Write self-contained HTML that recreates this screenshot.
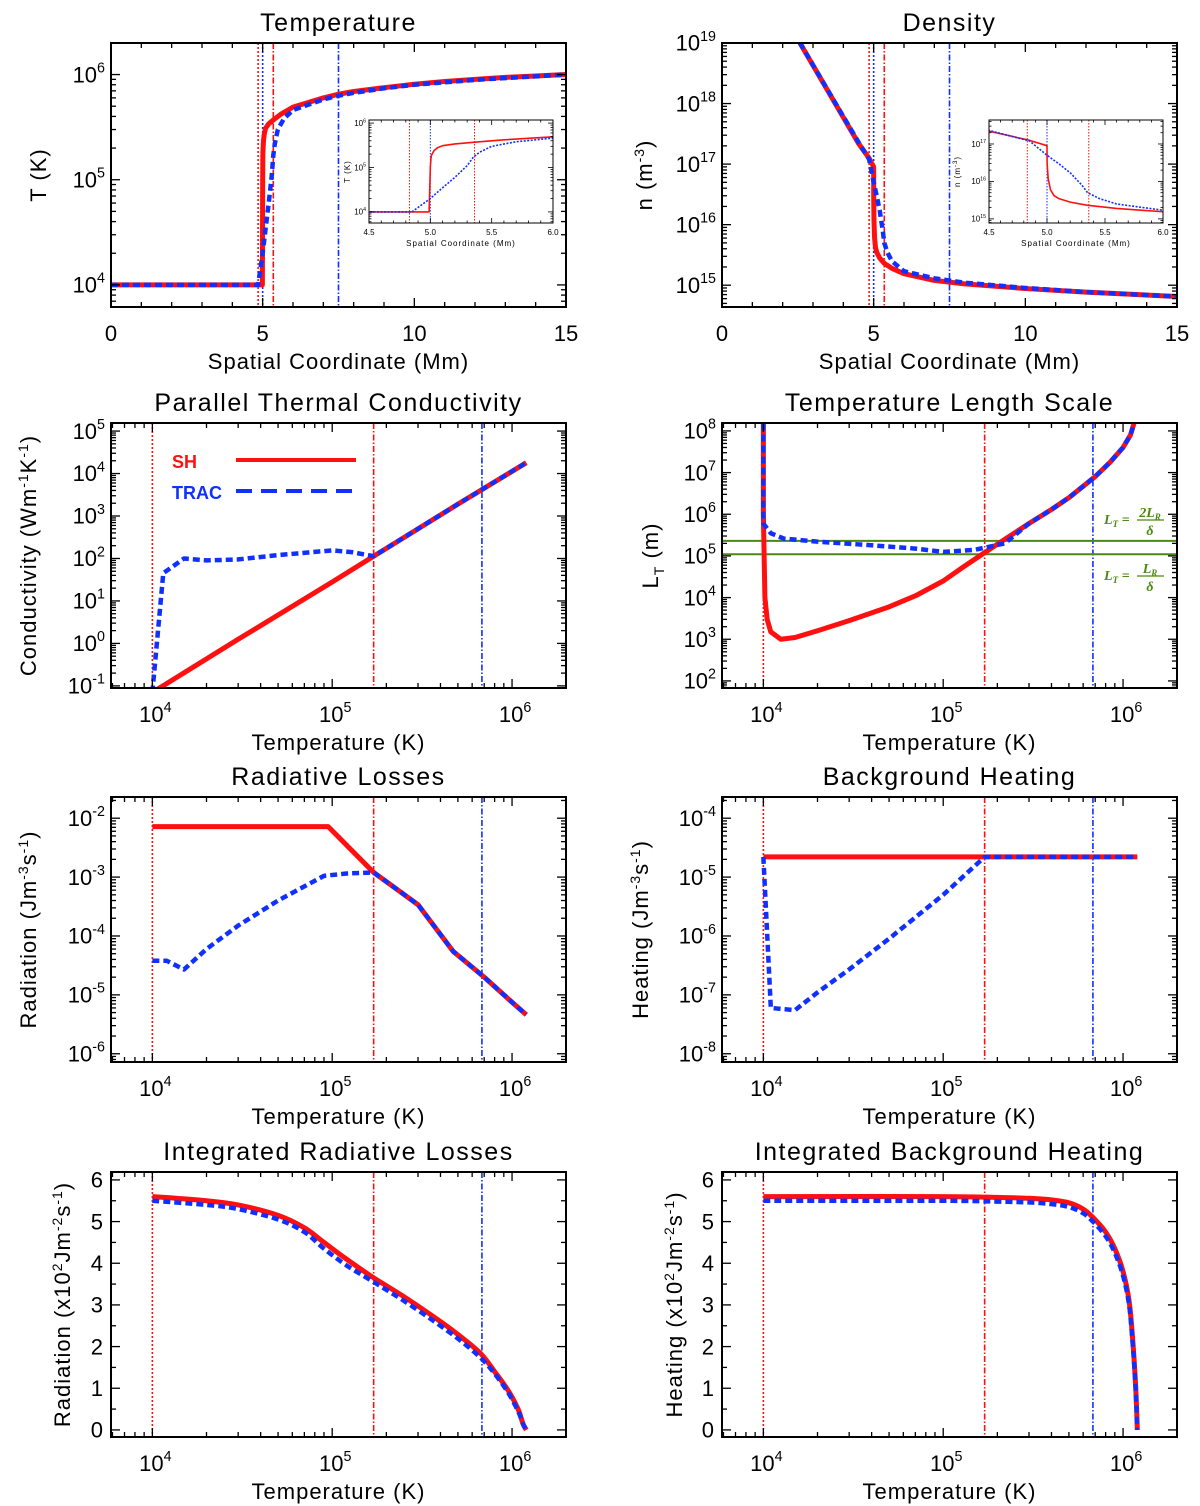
<!DOCTYPE html>
<html><head><meta charset="utf-8"><style>
html,body{margin:0;padding:0;background:#fff}
svg{display:block;font-family:"Liberation Sans",sans-serif}
</style></head><body>
<svg id="fig" width="1200" height="1506" viewBox="0 0 1200 1506" xmlns="http://www.w3.org/2000/svg"></svg>
<script>
// ---------- data ----------
const tempS_SH=[0,4.99,5.0,5.005,5.01,5.03,5.06,5.1,5.2,5.35,5.6,6,7,7.5,8,9,10,11,12,13,14,15];
const tempT_SH=[1e4,1e4,1e5,1.6e5,1.9e5,2.4e5,2.8e5,3.1e5,3.4e5,3.7e5,4.2e5,4.9e5,6e5,6.5e5,6.9e5,7.5e5,8.1e5,8.6e5,9e5,9.4e5,9.7e5,1e6];
const tempS_TRAC=[0,4.85,5.0,5.1,5.2,5.3,5.35,5.4,5.5,5.7,6,7,7.5,8,9,10,12,15];
const tempT_TRAC=[1e4,1e4,2e4,3.5e4,6e4,1.1e5,1.7e5,2.2e5,3e5,3.8e5,4.6e5,5.8e5,6.3e5,6.7e5,7.4e5,8e5,8.9e5,1e6];
const densS_SH=[2.57,4.5,4.85,5.0,5.001,5.01,5.03,5.06,5.1,5.2,5.35,5.6,6,7,8,10,12,15];
const densN_SH=[1e19,2.2e17,1.25e17,9e16,3e16,1.2e16,6e15,4.2e15,3.5e15,2.8e15,2.3e15,1.9e15,1.55e15,1.2e15,1.05e15,8.8e14,7.7e14,6.5e14];
const densS_TRAC=[2.57,4.5,4.85,5.0,5.1,5.2,5.3,5.35,5.45,5.6,6,7,8,10,12,15];
const densN_TRAC=[1e19,2.3e17,1.2e17,5e16,3e16,1.7e16,8e15,5e15,3.5e15,2.5e15,1.7e15,1.3e15,1.1e15,9e14,7.7e14,6.5e14];
const condT_SH=[1e4,3e4,1e5,1.7e5,5e5,1.2e6];
const condK_SH=[0.07,1.25,28,113,1900,1.8e4];
const condT_TRAC=[1e4,1.15e4,1.5e4,2e4,3e4,5e4,1e5,1.3e5,1.7e5,5e5,1.2e6];
const condK_TRAC=[0.07,45,100,90,95,120,155,140,113,1900,1.8e4];
const ltT_SH=[1e4,1e4,1.02e4,1.05e4,1.1e4,1.25e4,1.5e4,2e4,3e4,5e4,7e4,1e5,1.3e5,1.7e5,2.2e5,3e5,4e5,5e5,7e5,8.5e5,1e6,1.1e6,1.15e6];
const ltL_SH=[1.5e8,1e6,1e4,3e3,1.5e3,1e3,1.1e3,1.6e3,2.8e3,6e3,1.1e4,2.5e4,5.5e4,1.2e5,2.5e5,6e5,1.3e6,2.5e6,8e6,1.8e7,4e7,8e7,1.5e8];
const ltT_TRAC=[1e4,1e4,1.1e4,1.3e4,2e4,4e4,7e4,1e5,1.5e5,2.2e5,3e5,4e5,5e5,7e5,8.5e5,1e6,1.1e6,1.15e6];
const ltL_TRAC=[1.5e8,6e5,3.5e5,2.6e5,2.2e5,1.8e5,1.5e5,1.25e5,1.4e5,2.0e5,6e5,1.3e6,2.5e6,8e6,1.8e7,4e7,8e7,1.5e8];
const ltRefLines=[2.3e5,1.1e5];
const radT_SH=[1e4,9.5e4,1.7e5,3e5,4.7e5,7e5,1e6,1.2e6];
const radR_SH=[7.2e-3,7.2e-3,1.2e-3,3.4e-4,5.5e-5,2.0e-5,7.5e-6,4.6e-6];
const radT_TRAC=[1e4,1.2e4,1.5e4,2e4,3e4,5e4,9e4,1.2e5,1.7e5,3e5,4.7e5,7e5,1e6,1.2e6];
const radR_TRAC=[3.8e-5,3.8e-5,2.7e-5,6e-5,1.5e-4,4e-4,1.05e-3,1.15e-3,1.2e-3,3.4e-4,5.5e-5,2.0e-5,7.5e-6,4.6e-6];
const heatT_SH=[1e4,1.2e6];
const heatH_SH=[2.2e-5,2.2e-5];
const heatT_TRAC=[1e4,1.1e4,1.5e4,2e4,3e4,5e4,1e5,1.7e5,1.2e6];
const heatH_TRAC=[2.2e-5,6e-8,5.5e-8,1.1e-7,2.7e-7,9e-7,5e-6,2.2e-5,2.2e-5];
const irT=[1e4,2e4,3e4,5e4,7e4,9e4,1.2e5,1.7e5,2.5e5,4e5,5.5e5,6.8e5,8e5,9.5e5,1.08e6,1.15e6,1.2e6];
const ir_SH=[5.6,5.5,5.4,5.15,4.85,4.5,4.1,3.65,3.2,2.6,2.15,1.8,1.4,0.95,0.5,0.15,0];
const ir_TRAC=[5.5,5.4,5.3,5.05,4.75,4.35,3.95,3.55,3.1,2.5,2.05,1.7,1.35,0.9,0.45,0.15,0];
const ihT=[1e4,1e5,2e5,3e5,4e5,5e5,6e5,6.8e5,8e5,9e5,1e6,1.08e6,1.13e6,1.17e6,1.19e6,1.2e6];
const ih_SH=[5.6,5.6,5.58,5.56,5.52,5.45,5.3,5.1,4.75,4.35,3.8,3.1,2.2,1.2,0.5,0];
const ih_TRAC=[5.5,5.5,5.48,5.46,5.42,5.35,5.2,5.0,4.65,4.25,3.7,3.0,2.1,1.15,0.45,0];
const vlinesS=[4.85,5.0,5.35,7.5];
const vlinesInset=[4.83,5.0,5.36];
const vlinesT=[1e4,1.7e5,6.8e5];

// ---------- helpers ----------
const NS='http://www.w3.org/2000/svg';
const svg=document.getElementById('fig');
function mk(tag,attrs,parent){const e=document.createElementNS(NS,tag);for(const k in attrs)e.setAttribute(k,attrs[k]);parent.appendChild(e);return e;}
let clipId=0;
function expText(parent,x,y,exp,anchor,fs,name){
  const t=mk('text',{x:x,y:y,'text-anchor':anchor,'font-size':fs},parent);
  
  
  const a=mk('tspan',{},t);a.textContent='10';
  const b=mk('tspan',{dy:-fs*0.45,'font-size':fs*0.65},t);b.textContent=String(exp);
  return t;
}
function panel(c,name){
  const g=mk('g',{},svg);
  
  
  const fx=v=>c.xlog?Math.log10(v):v, fy=v=>c.ylog?Math.log10(v):v;
  const sx=v=>c.x0+(fx(v)-c.xmin)/(c.xmax-c.xmin)*(c.x1-c.x0);
  const sy=v=>c.y1-(fy(v)-c.ymin)/(c.ymax-c.ymin)*(c.y1-c.y0);
  const fs=c.fs||22, ml=c.ml||9, mn=c.mn||5, sw=c.sw||2;
  const id='clip'+(clipId++);
  const cp=mk('clipPath',{id:id},g);mk('rect',{x:c.x0,y:c.y0,width:c.x1-c.x0,height:c.y1-c.y0},cp);
  const plot=mk('g',{'clip-path':'url(#'+id+')'},g);
  
  
  const ticks=mk('g',{stroke:'#000','stroke-width':c.tw||1.3},g);
  
  
  function tk(px,len,axis){
    if(axis==='x'){mk('line',{x1:px,x2:px,y1:c.y1,y2:c.y1-len},ticks);mk('line',{x1:px,x2:px,y1:c.y0,y2:c.y0+len},ticks);}
    else{mk('line',{y1:px,y2:px,x1:c.x0,x2:c.x0+len},ticks);mk('line',{y1:px,y2:px,x1:c.x1,x2:c.x1-len},ticks);}
  }
  if(c.xlog){
    for(let d=Math.floor(c.xmin);d<=Math.ceil(c.xmax);d++){for(let k=1;k<10;k++){const l=d+Math.log10(k);if(l<c.xmin||l>c.xmax)continue;const px=c.x0+(l-c.xmin)/(c.xmax-c.xmin)*(c.x1-c.x0);tk(px,k===1?ml:mn,'x');
      if(k===1){expText(g,px+3,c.y1+c.xlo,d,'middle',fs,'x-tick-label');}}}
  } else {
    for(let v=Math.ceil(c.xmin/c.xminor)*c.xminor;v<=c.xmax+1e-9;v+=c.xminor){const px=sx(v);const maj=Math.abs(v/c.xmajor-Math.round(v/c.xmajor))<1e-6;tk(px,maj?ml:mn,'x');
      if(maj){const t=mk('text',{x:px,y:c.y1+c.xlo,'text-anchor':'middle','font-size':fs},g);t.textContent=c.xfmt?c.xfmt(v):String(Math.round(v));}}
  }
  if(c.ylog){
    for(let d=Math.floor(c.ymin);d<=Math.ceil(c.ymax);d++){for(let k=1;k<10;k++){const l=d+Math.log10(k);if(l<c.ymin||l>c.ymax)continue;const py=c.y1-(l-c.ymin)/(c.ymax-c.ymin)*(c.y1-c.y0);tk(py,k===1?ml:mn,'y');
      if(k===1){expText(g,c.x0-(c.ylo||6),py+fs*0.35,d,'end',fs,'y-tick-label');}}}
  } else {
    for(let v=Math.ceil(c.ymin/c.yminor)*c.yminor;v<=c.ymax+1e-9;v+=c.yminor){const py=sy(v);const maj=Math.abs(v/c.ymajor-Math.round(v/c.ymajor))<1e-6;tk(py,maj?ml:mn,'y');
      if(maj){const t=mk('text',{x:c.x0-8,y:py+fs*0.35,'text-anchor':'end','font-size':fs},g);t.textContent=String(Math.round(v));}}
  }
  const fr=mk('rect',{x:c.x0,y:c.y0,width:c.x1-c.x0,height:c.y1-c.y0,fill:'none',stroke:'#000','stroke-width':sw},g);
  
  
  if(c.title){const t=mk('text',{x:(c.x0+c.x1)/2,y:c.y0-12,'text-anchor':'middle','font-size':25,'letter-spacing':'1.5'},g);t.textContent=c.title;}
  if(c.xtitle){const t=mk('text',{x:(c.x0+c.x1)/2,y:c.y1+c.xto,'text-anchor':'middle','font-size':c.xtfs||22,'letter-spacing':'1'},g);t.textContent=c.xtitle;}
  if(c.ytitle){const t=mk('text',{x:0,y:0,'text-anchor':'middle','font-size':c.ytfs||22,'letter-spacing':'1',transform:'translate('+c.ytx+','+(c.y0+c.y1)/2+') rotate(-90)'},g);t.innerHTML=c.ytitle;}
  return {g,plot,sx,sy,c};
}
function series(P,xs,ys,st,name,smooth){
  const pts=xs.map((x,i)=>[P.sx(x),P.sy(ys[i])]);
  let d='M'+pts[0][0].toFixed(2)+','+pts[0][1].toFixed(2);
  for(let i=1;i<pts.length;i++){
    if(smooth){
      const p0=pts[Math.max(i-2,0)],p1=pts[i-1],p2=pts[i],p3=pts[Math.min(i+1,pts.length-1)];
      const c1=[p1[0]+(p2[0]-p0[0])/6,p1[1]+(p2[1]-p0[1])/6],c2=[p2[0]-(p3[0]-p1[0])/6,p2[1]-(p3[1]-p1[1])/6];
      d+='C'+c1[0].toFixed(2)+','+c1[1].toFixed(2)+' '+c2[0].toFixed(2)+','+c2[1].toFixed(2)+' '+p2[0].toFixed(2)+','+p2[1].toFixed(2);
    } else d+='L'+pts[i][0].toFixed(2)+','+pts[i][1].toFixed(2);
  }
  const p=mk('path',{d:d,fill:'none',stroke:st.c,'stroke-width':st.w,'stroke-dasharray':st.da||'none','stroke-linejoin':'round'},P.plot);
  
  
}
function vline(P,xv,color,da,name,w){
  const x=P.sx(xv);
  const l=mk('line',{x1:x,x2:x,y1:P.c.y0,y2:P.c.y1,stroke:color,'stroke-width':w||1.6,'stroke-dasharray':da},P.plot);
  
  
}
const RED='#ff1010',BLUE='#1030ff';
const SH={c:RED,w:5},TR={c:BLUE,w:4.5,da:'7,4'};
const DOT='2,2',DDOT='6,2,1.5,2';
function tempVlines(P){vline(P,vlinesT[0],RED,DOT,'vline-sh-chromosphere');vline(P,vlinesT[1],RED,DDOT,'vline-sh-cutoff');vline(P,vlinesT[2],BLUE,DDOT,'vline-trac-cutoff');}

// ---------- panel 1: Temperature ----------
let P=panel({x0:111,x1:566,y0:43,y1:307,xlog:false,xmin:0,xmax:15,xmajor:5,xminor:1,ylog:true,ymin:3.79,ymax:6.3,xlo:34,title:'Temperature',xtitle:'Spatial Coordinate (Mm)',xto:62,ytitle:'T (K)',ytx:46},'temperature-panel');
vline(P,vlinesS[0],RED,DOT,'vline-red-dotted');vline(P,vlinesS[1],BLUE,DOT,'vline-blue-dotted');vline(P,vlinesS[2],RED,DDOT,'vline-red-dashdot');vline(P,vlinesS[3],BLUE,DDOT,'vline-blue-dashdot');
series(P,tempS_SH,tempT_SH,SH,'temperature-sh-line');
series(P,tempS_TRAC,tempT_TRAC,TR,'temperature-trac-line');
let I=panel({x0:369,x1:553,y0:120,y1:223,xlog:false,xmin:4.5,xmax:6.0,xmajor:0.5,xminor:0.1,ylog:true,ymin:3.75,ymax:6.07,fs:8,ml:5,mn:2.5,sw:1,tw:0.8,xlo:12,ylo:3,xfmt:v=>v.toFixed(1),xtitle:'Spatial Coordinate (Mm)',xto:23,xtfs:8,ytitle:'T (K)',ytx:350,ytfs:8},'temperature-inset');
mk('rect',{x:369,y:120,width:184,height:103,fill:'#fff'},I.plot);
vline(I,vlinesInset[0],RED,'1.5,1.5','inset-vline-red',1);vline(I,vlinesInset[1],BLUE,'1.5,1.5','inset-vline-blue',1);vline(I,vlinesInset[2],RED,'1.5,1.5','inset-vline-red2',1);
series(I,tempS_SH,tempT_SH,{c:RED,w:1.6},'inset-temperature-sh');
series(I,tempS_TRAC,tempT_TRAC,{c:BLUE,w:1.6,da:'2,1.5'},'inset-temperature-trac');

// ---------- panel 2: Density ----------
P=panel({x0:722,x1:1177,y0:43,y1:307,xlog:false,xmin:0,xmax:15,xmajor:5,xminor:1,ylog:true,ymin:14.64,ymax:19.0,xlo:34,title:'Density',xtitle:'Spatial Coordinate (Mm)',xto:62,ytitle:'n (m<tspan dy="-8" font-size="14">-3</tspan><tspan dy="8">)</tspan>',ytx:652},'density-panel');
vline(P,vlinesS[0],RED,DOT,'vline-red-dotted');vline(P,vlinesS[1],BLUE,DOT,'vline-blue-dotted');vline(P,vlinesS[2],RED,DDOT,'vline-red-dashdot');vline(P,vlinesS[3],BLUE,DDOT,'vline-blue-dashdot');
series(P,densS_SH,densN_SH,SH,'density-sh-line');
series(P,densS_TRAC,densN_TRAC,TR,'density-trac-line');
I=panel({x0:989,x1:1163,y0:120,y1:223,xlog:false,xmin:4.5,xmax:6.0,xmajor:0.5,xminor:0.1,ylog:true,ymin:14.89,ymax:17.64,fs:8,ml:5,mn:2.5,sw:1,tw:0.8,xlo:12,ylo:3,xfmt:v=>v.toFixed(1),xtitle:'Spatial Coordinate (Mm)',xto:23,xtfs:8,ytitle:'n (m<tspan dy="-3" font-size="6">-3</tspan><tspan dy="3">)</tspan>',ytx:960,ytfs:8},'density-inset');
mk('rect',{x:989,y:120,width:174,height:103,fill:'#fff'},I.plot);
vline(I,vlinesInset[0],RED,'1.5,1.5','inset-vline-red',1);vline(I,vlinesInset[1],BLUE,'1.5,1.5','inset-vline-blue',1);vline(I,vlinesInset[2],RED,'1.5,1.5','inset-vline-red2',1);
series(I,densS_SH,densN_SH,{c:RED,w:1.6},'inset-density-sh');
series(I,densS_TRAC,densN_TRAC,{c:BLUE,w:1.6,da:'2,1.5'},'inset-density-trac');

// ---------- panel 3: Conductivity ----------
const tx={xlog:true,xmin:3.77,xmax:6.3,xlo:34,xto:62,xtitle:'Temperature (K)'};
P=panel(Object.assign({x0:111,x1:566,y0:423,y1:688,ylog:true,ymin:-1.05,ymax:5.19,title:'Parallel Thermal Conductivity',ytitle:'Conductivity (Wm<tspan dy="-8" font-size="14">-1</tspan><tspan dy="8">K</tspan><tspan dy="-8" font-size="14">-1</tspan><tspan dy="8">)</tspan>',ytx:36},tx),'conductivity-panel');
tempVlines(P);
series(P,condT_SH,condK_SH,SH,'conductivity-sh-line');
series(P,condT_TRAC,condK_TRAC,TR,'conductivity-trac-line');
let lg=mk('g',{},P.g);


let t=mk('text',{x:172,y:468,fill:RED,'font-size':18,'font-weight':'bold'},lg);t.textContent='SH';


let l=mk('line',{x1:236,x2:356,y1:460,y2:460,stroke:RED,'stroke-width':4},lg);


t=mk('text',{x:172,y:499,fill:BLUE,'font-size':18,'font-weight':'bold'},lg);t.textContent='TRAC';


l=mk('line',{x1:236,x2:356,y1:491,y2:491,stroke:BLUE,'stroke-width':4,'stroke-dasharray':'16,9'},lg);



// ---------- panel 4: Length scale ----------
P=panel(Object.assign({x0:722,x1:1177,y0:423,y1:688,ylog:true,ymin:1.83,ymax:8.19,title:'Temperature Length Scale',ytitle:'L<tspan dy="6" font-size="14">T</tspan><tspan dy="-6"> (m)</tspan>',ytx:658},tx),'length-scale-panel');
tempVlines(P);
ltRefLines.forEach((v,i)=>{const y=P.sy(v);const gl=mk('line',{x1:722,x2:1177,y1:y,y2:y,stroke:'#4a8a10','stroke-width':2},P.plot);});
series(P,ltT_SH,ltL_SH,SH,'length-scale-sh-line');
series(P,ltT_TRAC,ltL_TRAC,TR,'length-scale-trac-line');
[['2L',524,'annotation-2lr'],['L',580,'annotation-lr']].forEach(a=>{
  const ga=mk('g',{fill:'#4a8a10','font-family':'Liberation Serif,serif','font-style':'italic','font-weight':'bold','font-size':14},P.g);
  
  
  const tt=mk('text',{x:1104,y:a[1]},ga);tt.innerHTML='L<tspan font-size="9" dy="3">T</tspan><tspan dy="-3"> = </tspan>';
  const nn=mk('text',{x:1150,y:a[1]-7,'text-anchor':'middle'},ga);nn.innerHTML=a[0]+'<tspan font-size="9" dy="3">R</tspan>';
  mk('line',{x1:1137,x2:1164,y1:a[1]-4,y2:a[1]-4,stroke:'#4a8a10','stroke-width':1.2},ga);
  const dd=mk('text',{x:1150,y:a[1]+11,'text-anchor':'middle'},ga);dd.textContent='δ';
});

// ---------- panel 5: Radiative losses ----------
P=panel(Object.assign({x0:111,x1:566,y0:797,y1:1062,ylog:true,ymin:-6.14,ymax:-1.64,title:'Radiative Losses',ytitle:'Radiation (Jm<tspan dy="-8" font-size="14">-3</tspan><tspan dy="8">s</tspan><tspan dy="-8" font-size="14">-1</tspan><tspan dy="8">)</tspan>',ytx:36},tx),'radiative-losses-panel');
tempVlines(P);
series(P,radT_SH,radR_SH,SH,'radiation-sh-line');
series(P,radT_TRAC,radR_TRAC,TR,'radiation-trac-line');

// ---------- panel 6: Background heating ----------
P=panel(Object.assign({x0:722,x1:1177,y0:797,y1:1062,ylog:true,ymin:-8.14,ymax:-3.64,title:'Background Heating',ytitle:'Heating (Jm<tspan dy="-8" font-size="14">-3</tspan><tspan dy="8">s</tspan><tspan dy="-8" font-size="14">-1</tspan><tspan dy="8">)</tspan>',ytx:648},tx),'background-heating-panel');
tempVlines(P);
series(P,heatT_SH,heatH_SH,SH,'heating-sh-line');
series(P,heatT_TRAC,heatH_TRAC,TR,'heating-trac-line');

// ---------- panel 7: Integrated radiative losses ----------
P=panel(Object.assign({x0:111,x1:566,y0:1172,y1:1437,ylog:false,ymin:-0.17,ymax:6.19,ymajor:1,yminor:0.5,title:'Integrated Radiative Losses',ytitle:'Radiation (x10<tspan dy="-8" font-size="14">2</tspan><tspan dy="8">Jm</tspan><tspan dy="-8" font-size="14">-2</tspan><tspan dy="8">s</tspan><tspan dy="-8" font-size="14">-1</tspan><tspan dy="8">)</tspan>',ytx:70},tx),'integrated-radiation-panel');
tempVlines(P);
series(P,irT,ir_SH,SH,'integrated-radiation-sh-line',true);
series(P,irT,ir_TRAC,TR,'integrated-radiation-trac-line',true);

// ---------- panel 8: Integrated background heating ----------
P=panel(Object.assign({x0:722,x1:1177,y0:1172,y1:1437,ylog:false,ymin:-0.17,ymax:6.19,ymajor:1,yminor:0.5,title:'Integrated Background Heating',ytitle:'Heating (x10<tspan dy="-8" font-size="14">2</tspan><tspan dy="8">Jm</tspan><tspan dy="-8" font-size="14">-2</tspan><tspan dy="8">s</tspan><tspan dy="-8" font-size="14">-1</tspan><tspan dy="8">)</tspan>',ytx:682},tx),'integrated-heating-panel');
tempVlines(P);
series(P,ihT,ih_SH,SH,'integrated-heating-sh-line',true);
series(P,ihT,ih_TRAC,TR,'integrated-heating-trac-line',true);
</script>
</body></html>
